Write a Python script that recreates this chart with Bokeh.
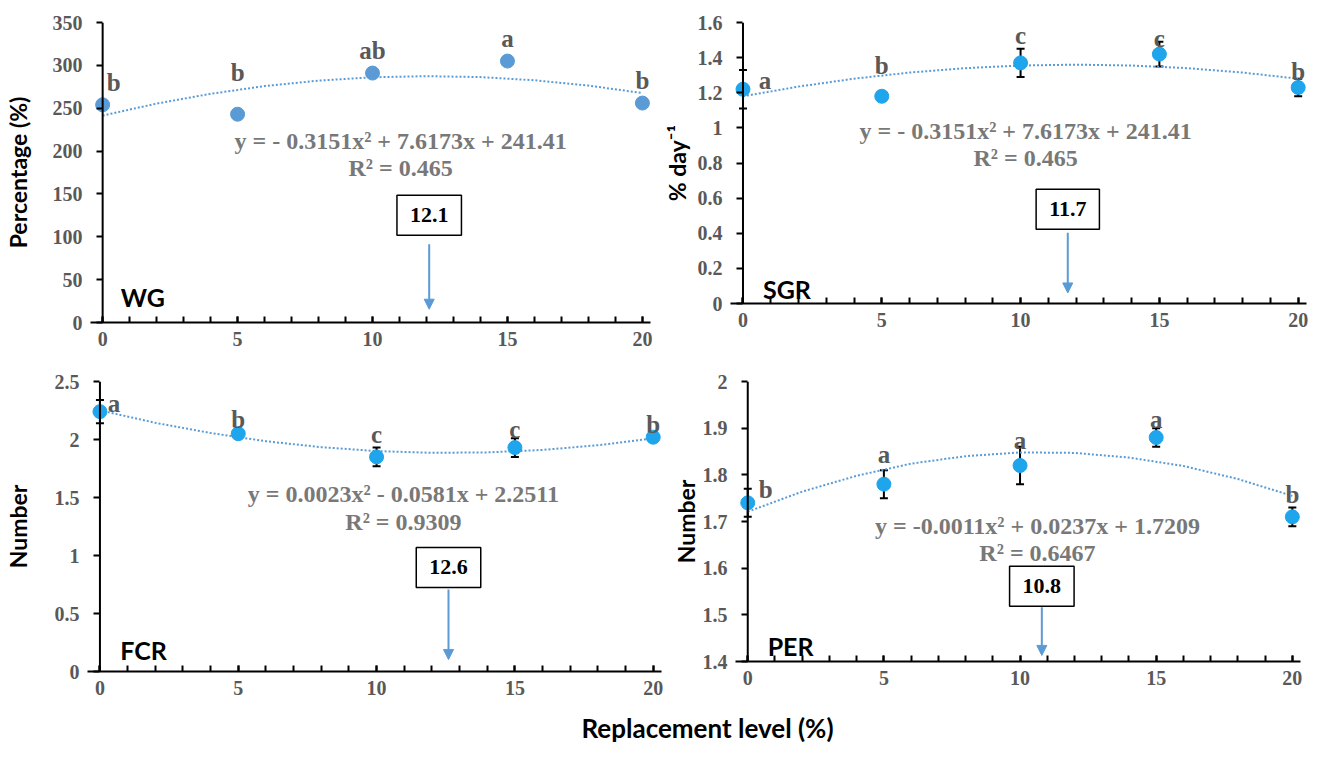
from bokeh.plotting import figure
from bokeh.layouts import column, row
from bokeh.models import (Range1d, FixedTicker, Span, Label, Arrow, NormalHead,
                          Whisker, TeeHead, ColumnDataSource)
from bokeh.core.properties import value
from bokeh.embed import file_html
from bokeh.resources import INLINE

# ---------------- data ----------------
levels = [0, 5, 10, 15, 20]
x_tick_labels = ["0", "5", "10", "15", "20"]
trend_x = [0, 2, 4, 6, 8, 10, 12, 14, 16, 18, 20]

wg_values = [254, 243, 291, 305, 256]
wg_err = [0, 0, 0, 0, 0]
wg_letters = ["b", "b", "ab", "a", "b"]
wg_trend = [241.4, 255.4, 266.8, 275.8, 282.2, 286.1, 287.4, 286.3, 282.6, 276.4, 267.7]
wg_ticks = [0, 50, 100, 150, 200, 250, 300, 350]
wg_tick_labels = ["0", "50", "100", "150", "200", "250", "300", "350"]
wg_equation = "y = - 0.3151x² + 7.6173x + 241.41"
wg_r2 = "R² = 0.465"
wg_opt = 12.1

sgr_values = [1.22, 1.18, 1.37, 1.42, 1.23]
sgr_err = [0.11, 0.0, 0.08, 0.07, 0.05]
sgr_letters = ["a", "b", "c", "c", "b"]
sgr_trend = [1.180, 1.235, 1.280, 1.315, 1.340, 1.355, 1.360, 1.355, 1.340, 1.315, 1.280]
sgr_ticks = [0, 0.2, 0.4, 0.6, 0.8, 1.0, 1.2, 1.4, 1.6]
sgr_tick_labels = ["0", "0.2", "0.4", "0.6", "0.8", "1", "1.2", "1.4", "1.6"]
sgr_equation = "y = - 0.3151x² + 7.6173x + 241.41"
sgr_r2 = "R² = 0.465"
sgr_opt = 11.7

fcr_values = [2.24, 2.05, 1.85, 1.93, 2.02]
fcr_err = [0.10, 0.02, 0.08, 0.08, 0.0]
fcr_letters = ["a", "b", "c", "c", "b"]
fcr_trend = [2.251, 2.144, 2.056, 1.985, 1.934, 1.900, 1.885, 1.889, 1.910, 1.951, 2.009]
fcr_ticks = [0, 0.5, 1.0, 1.5, 2.0, 2.5]
fcr_tick_labels = ["0", "0.5", "1", "1.5", "2", "2.5"]
fcr_equation = "y = 0.0023x² - 0.0581x + 2.2511"
fcr_r2 = "R² = 0.9309"
fcr_opt = 12.6

per_values = [1.74, 1.78, 1.82, 1.88, 1.71]
per_err = [0.03, 0.03, 0.04, 0.02, 0.02]
per_letters = ["b", "a", "a", "a", "b"]
per_trend = [1.721, 1.764, 1.798, 1.824, 1.840, 1.848, 1.847, 1.837, 1.819, 1.791, 1.755]
per_ticks = [1.4, 1.5, 1.6, 1.7, 1.8, 1.9, 2.0]
per_tick_labels = ["1.4", "1.5", "1.6", "1.7", "1.8", "1.9", "2"]
per_equation = "y = -0.0011x² + 0.0237x + 1.7209"
per_r2 = "R² = 0.6467"
per_opt = 10.8

# ---------------- styling ----------------
SERIF = "Liberation Serif"
SANS = "Lato"
TREND_COLOR = "#5B9BD5"
TICK_GRAY = "#595959"
EQ_GRAY = "#787878"
X_START, X_END = -0.45, 20.3


def make_panel(cfg):
    FW, FH = cfg["frame"]
    L, R, T, B = cfg["borders"]
    p = figure(frame_width=FW, frame_height=FH, output_backend="svg", toolbar_location=None,
               x_range=Range1d(X_START, X_END), y_range=Range1d(*cfg["yrange"]),
               min_border_left=L, min_border_right=R, min_border_top=T, min_border_bottom=B)
    p.background_fill_color = "white"
    p.border_fill_color = "white"
    p.outline_line_color = None
    p.xgrid.visible = False
    p.ygrid.visible = False

    g = int(round((0 - X_START) * FW / (X_END - X_START)))

    # x axis
    xa = p.xaxis[0]
    xa.ticker = FixedTicker(ticks=levels, minor_ticks=list(range(0, 21)))
    xa.major_label_overrides = {lv: lab for lv, lab in zip(levels, x_tick_labels)}
    xa.axis_line_color = "black"
    xa.axis_line_width = 2
    xa.major_tick_in = 6
    xa.major_tick_out = 0
    xa.minor_tick_in = 6
    xa.minor_tick_out = 0
    xa.major_tick_line_width = 2
    xa.minor_tick_line_width = 2
    xa.major_tick_line_color = "black"
    xa.minor_tick_line_color = "black"
    xa.major_label_standoff = 9
    xa.major_label_text_font = SERIF
    xa.major_label_text_font_style = "bold"
    xa.major_label_text_font_size = "20px"
    xa.major_label_text_color = TICK_GRAY

    # y axis (line drawn at x = 0)
    ya = p.yaxis[0]
    ya.ticker = FixedTicker(ticks=cfg["yticks"], minor_ticks=[])
    ya.major_label_overrides = {t: lab for t, lab in zip(cfg["yticks"], cfg["ylabels"])}
    ya.axis_line_color = None
    ya.major_tick_in = g
    ya.major_tick_out = -(g - 6)
    ya.major_tick_line_width = 2
    ya.major_tick_line_color = "black"
    ya.minor_tick_line_color = None
    ya.major_label_standoff = 8
    ya.major_label_text_font = SERIF
    ya.major_label_text_font_style = "bold"
    ya.major_label_text_font_size = "20px"
    ya.major_label_text_color = TICK_GRAY
    ya.axis_label = cfg["ytitle"]
    ya.axis_label_text_font = SANS
    ya.axis_label_text_font_style = "bold"
    ya.axis_label_text_font_size = "23px"
    ya.axis_label_text_color = "black"
    ya.axis_label_standoff = cfg["ytitle_standoff"]

    p.add_layout(Span(location=0, dimension="height", line_color="black", line_width=2))

    # trend line
    p.line(trend_x, cfg["trend"], line_color=TREND_COLOR, line_width=2, line_dash="2 2")

    # error bars
    up = [v + e for v, e in zip(cfg["values"], cfg["err"])]
    lo = [v - e for v, e in zip(cfg["values"], cfg["err"])]
    esrc = ColumnDataSource(dict(x=levels, upper=up, lower=lo))
    wh = Whisker(base="x", upper="upper", lower="lower", source=esrc, dimension="height",
                 line_color="black", line_width=2, level="underlay",
                 upper_head=TeeHead(size=8, line_width=2, line_color="black"),
                 lower_head=TeeHead(size=8, line_width=2, line_color="black"))
    p.add_layout(wh)

    # points
    p.scatter(levels, cfg["values"], size=14, fill_color=cfg["color"], line_color=cfg["color"])

    # significance letters
    lsrc = ColumnDataSource(dict(x=levels, y=cfg["values"], t=cfg["letters"],
                                 dx=cfg["letter_dx"], dy=cfg["letter_dy"]))
    p.text(x="x", y="y", text="t", x_offset="dx", y_offset="dy", source=lsrc,
           text_font=value(SERIF), text_font_style="bold", text_font_size="25px",
           text_color=TICK_GRAY, text_align="center", text_baseline="alphabetic")

    # equation + R2
    ex, ey, ry = cfg["eq_pos"]
    for txt, yy in ((cfg["equation"], ey), (cfg["r2"], ry)):
        p.add_layout(Label(x=ex, y=yy, text=txt, text_font=SERIF, text_font_style="bold",
                           text_font_size="24px", text_color=EQ_GRAY,
                           text_align="center", text_baseline="alphabetic"))

    # optimum box + arrow
    by, ys, ye = cfg["opt_pos"]
    p.add_layout(Label(x=cfg["opt"], y=by, text=f"{cfg['opt']}", text_font=SERIF,
                       text_font_style="bold", text_font_size="22px", text_color="black",
                       text_align="center", text_baseline="middle",
                       border_line_color="black", border_line_width=1.5,
                       background_fill_color="white", padding=13))
    p.add_layout(Arrow(x_start=cfg["opt"], y_start=ys, x_end=cfg["opt"], y_end=ye,
                       line_color=TREND_COLOR, line_width=2,
                       end=NormalHead(size=10, fill_color=TREND_COLOR, line_color=TREND_COLOR)))

    # panel name
    nx, ny = cfg["name_pos"]
    p.add_layout(Label(x=nx, y=ny, text=cfg["name"], text_font=SANS, text_font_style="bold",
                       text_font_size="25px", text_color="black",
                       text_align="left", text_baseline="alphabetic"))
    return p


p_wg = make_panel(dict(frame=(560, 300), borders=(85, 7, 12, 45), yrange=(0, 350),
                       yticks=wg_ticks, ylabels=wg_tick_labels, ytitle="Percentage (%)",
                       ytitle_standoff=18, trend=wg_trend, values=wg_values, err=wg_err,
                       color="#5B9BD5", letters=wg_letters,
                       letter_dx=[11, 0, 0, 0, 0], letter_dy=[-22, -42, -23, -23, -23],
                       equation=wg_equation, r2=wg_r2, eq_pos=(11.04, 212, 180),
                       opt=wg_opt, opt_pos=(125, 91.4, 15.5), name="WG", name_pos=(0.67, 30)))

p_sgr = make_panel(dict(frame=(576, 281), borders=(73, 6, 22, 54), yrange=(0, 1.6),
                        yticks=sgr_ticks, ylabels=sgr_tick_labels, ytitle="% day⁻¹",
                        ytitle_standoff=4, trend=sgr_trend, values=sgr_values, err=sgr_err,
                        color="#1EA5EC", letters=sgr_letters,
                        letter_dx=[22, 0, 0, 0, 0], letter_dy=[-9, -31, -27, -16, -16],
                        equation=sgr_equation, r2=sgr_r2, eq_pos=(10.18, 0.985, 0.83),
                        opt=sgr_opt, opt_pos=(0.537, 0.403, 0.06), name="SGR", name_pos=(0.72, 0.08)))

p_fcr = make_panel(dict(frame=(574, 290), borders=(83, 7, 20, 42), yrange=(0, 2.5),
                        yticks=fcr_ticks, ylabels=fcr_tick_labels, ytitle="Number",
                        ytitle_standoff=20, trend=fcr_trend, values=fcr_values, err=fcr_err,
                        color="#1EA5EC", letters=fcr_letters,
                        letter_dx=[14, 0, 0, 0, 0], letter_dy=[-8, -14, -22, -18, -13],
                        equation=fcr_equation, r2=fcr_r2, eq_pos=(10.97, 1.53, 1.29),
                        opt=fcr_opt, opt_pos=(0.897, 0.707, 0.103), name="FCR", name_pos=(0.73, 0.187)))

p_per = make_panel(dict(frame=(565, 280), borders=(62, 16, 24, 48), yrange=(1.4, 2.0),
                        yticks=per_ticks, ylabels=per_tick_labels, ytitle="Number",
                        ytitle_standoff=0, trend=per_trend, values=per_values, err=per_err,
                        color="#1EA5EC", letters=per_letters,
                        letter_dx=[18, 0, 0, 0, 0], letter_dy=[-13, -30, -25, -18, -22],
                        equation=per_equation, r2=per_r2, eq_pos=(10.64, 1.691, 1.632),
                        opt=per_opt, opt_pos=(1.561, 1.516, 1.413), name="PER", name_pos=(0.73, 1.434)))

p_title = figure(width=1307, height=34, output_backend="svg", toolbar_location=None,
                 x_range=Range1d(0, 1), y_range=Range1d(0, 1),
                 min_border_left=0, min_border_right=0, min_border_top=0, min_border_bottom=0)
p_title.axis.visible = False
p_title.grid.visible = False
p_title.outline_line_color = None
p_title.add_layout(Label(x=707 / 1307, y=0.46, text="Replacement level (%)",
                         text_font=SANS, text_font_style="bold",
                         text_font_size="26px", text_color="black",
                         text_align="center", text_baseline="middle"))

layout = column(row(p_wg, p_sgr), row(p_fcr, p_per), p_title)
open("out.html", "w").write(file_html(layout, INLINE))
